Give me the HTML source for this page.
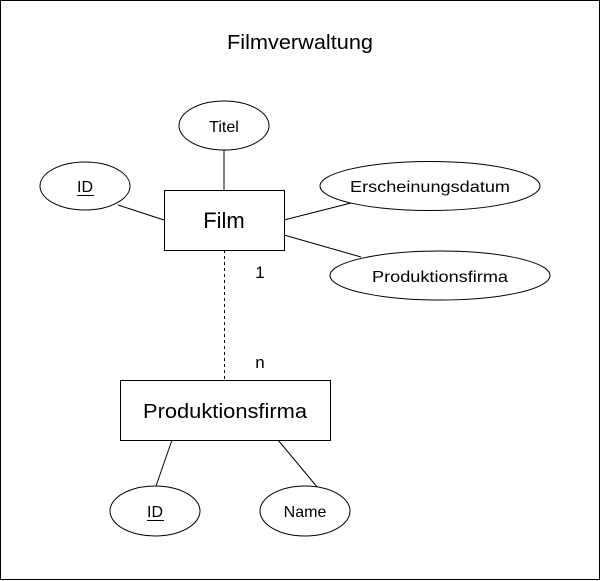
<!DOCTYPE html>
<html><head><meta charset="utf-8"><style>html,body{margin:0;padding:0;background:#fff}svg{display:block}</style></head>
<body>
<svg width="601" height="581" viewBox="0 0 601 581" xmlns="http://www.w3.org/2000/svg" font-family="Liberation Sans, Arial, sans-serif" fill="none" stroke="#000">
<rect x="0.5" y="0.5" width="599" height="579" fill="#fff"/>
<text x="300" y="49" font-size="20" fill="#000" stroke="none" text-anchor="middle" textLength="146" lengthAdjust="spacingAndGlyphs">Filmverwaltung</text>
<line x1="224" y1="150" x2="224" y2="190"/>
<line x1="118" y1="205" x2="164" y2="220"/>
<line x1="284" y1="220" x2="351" y2="203"/>
<line x1="284" y1="235" x2="361" y2="257"/>
<line x1="224.5" y1="250" x2="224.5" y2="380" stroke-dasharray="3,3"/>
<line x1="172" y1="440" x2="156" y2="486"/>
<line x1="278" y1="440" x2="318" y2="488"/>
<ellipse cx="224" cy="125.5" rx="45" ry="24.5" fill="#fff"/>
<ellipse cx="85" cy="186" rx="45" ry="24" fill="#fff"/>
<ellipse cx="430" cy="186" rx="110" ry="24.5" fill="#fff"/>
<ellipse cx="440" cy="275.5" rx="110" ry="24.5" fill="#fff"/>
<rect x="164.5" y="190.5" width="120" height="60" fill="#fff"/>
<rect x="120.5" y="380.5" width="210" height="60" fill="#fff"/>
<ellipse cx="155" cy="511" rx="45" ry="25" fill="#fff"/>
<ellipse cx="305" cy="511" rx="45" ry="25" fill="#fff"/>
<g fill="#000" stroke="none" text-anchor="middle">
<text x="224" y="132" font-size="16">Titel</text>
<text x="85" y="192" font-size="16">ID</text>
<line x1="77" y1="195.5" x2="94" y2="195.5" stroke="#000"/>
<text x="430" y="192" font-size="16" textLength="160" lengthAdjust="spacingAndGlyphs">Erscheinungsdatum</text>
<text x="440" y="282" font-size="16" textLength="136" lengthAdjust="spacingAndGlyphs">Produktionsfirma</text>
<text x="224" y="228" font-size="22">Film</text>
<text x="260" y="278" font-size="17">1</text>
<text x="260" y="368" font-size="17">n</text>
<text x="225" y="418" font-size="20" textLength="164" lengthAdjust="spacingAndGlyphs">Produktionsfirma</text>
<text x="155" y="517" font-size="16">ID</text>
<line x1="147" y1="520.5" x2="164" y2="520.5" stroke="#000"/>
<text x="305" y="517" font-size="16">Name</text>
</g>
</svg>
</body></html>
